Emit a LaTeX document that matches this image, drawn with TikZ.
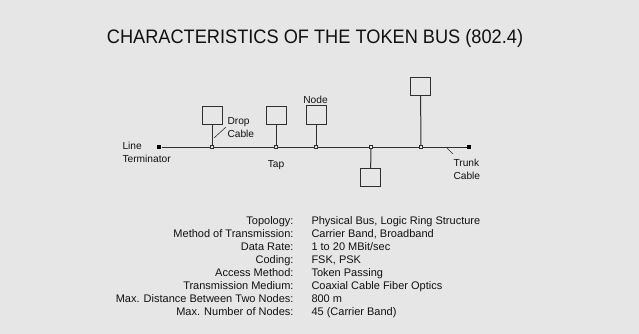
\documentclass[tikz,border=0pt]{standalone}
\usepackage{fontspec}
\setmainfont{Liberation Sans}
\newfontfamily\titlefont[FakeStretch=0.933]{Liberation Sans}
\usetikzlibrary{positioning}

\definecolor{panel}{HTML}{E6E6E6}
\definecolor{wire}{HTML}{303030}
\definecolor{ink}{HTML}{111111}

\tikzset{
  station/.style={draw=wire, fill=panel, minimum width=20pt, minimum height=18pt, inner sep=0pt},
  tapmark/.style={draw=wire, fill=panel, minimum size=3.5pt, inner sep=0pt, line width=0.7pt},
  endmark/.style={fill=black, minimum size=4pt, inner sep=0pt},
  lbl/.style={font=\fontsize{10.2}{12.5}\selectfont, text=ink, inner sep=0pt, align=left},
  spec/.style={font=\fontsize{11}{13}\selectfont, text=ink, inner sep=0pt},
}

\begin{document}
\begin{tikzpicture}[x=1pt, y=-1pt, line width=1pt]
    \fill[panel] (0,0) rectangle (639,334);
    \useasboundingbox (0,0) rectangle (639,334);

    % Title
    \node[font=\titlefont\fontsize{19.5}{22}\selectfont, text=ink, anchor=base] (title) at (315,44)
        {CHARACTERISTICS OF THE TOKEN BUS (802.4)};

    % Trunk cable
    \node[endmark] (lt) at (159,147) {};
    \node[endmark] (rt) at (469,147) {};
    \draw[wire] (lt) -- (rt);

    % Stations and drop cables
    \node[station] (st1) at (212,115.5) {};
    \node[station] (st2) at (276,115.5) {};
    \node[station] (st3) at (316,115) {};
    \node[station] (st4) at (370.5,177.5) {};
    \node[station] (st5) at (420.5,86.5) {};
    \foreach \n/\x in {1/212, 2/276, 3/316, 4/371, 5/421}
        \coordinate (drop\n) at (\x,147);
    \foreach \n in {1,...,5}
        \draw[wire] (st\n) -- (drop\n);

    % Taps
    \foreach \n in {1,...,5}
        \node[tapmark] (tap\n) at (drop\n) {};

    % Labels
    \node[lbl, anchor=north west] (ltlabel) at (122,142) {Line\\Terminator};
    \node[lbl, anchor=north west] (droplabel) at (227,117) {Drop\\Cable};
    \coordinate (dropref) at (226,127);
    \draw[wire, line width=0.6pt] (214,138) -- (dropref);
    \node[lbl, anchor=base] (taplabel) at (276,167) {Tap};
    \node[lbl, anchor=base] (nodelabel) at (315.5,103) {Node};
    \node[lbl, anchor=north west] (trunklabel) at (453,159) {Trunk\\Cable};
    \coordinate (trunkref) at (447,148);
    \draw[wire, line width=0.6pt] (trunkref) -- (453,154);

    % Characteristics
    \node[spec, anchor=north east, align=right] (keys) at (294,216)
        {Topology:\\Method of Transmission:\\Data Rate:\\Coding:\\Access Method:\\
         Transmission Medium:\\Max. Distance Between Two Nodes:\\Max. Number of Nodes:};
    \node[spec, anchor=north west, align=left] (values) at (311,216)
        {Physical Bus, Logic Ring Structure\\Carrier Band, Broadband\\1 to 20 MBit/sec\\FSK, PSK\\
         Token Passing\\Coaxial Cable Fiber Optics\\800 m\\45 (Carrier Band)};
\end{tikzpicture}
\end{document}
